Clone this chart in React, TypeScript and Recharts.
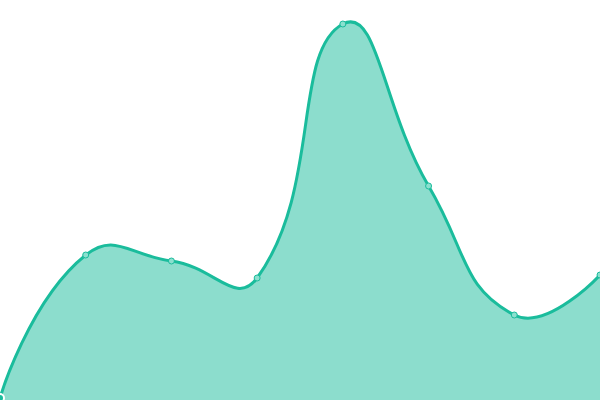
import React from "react";
import { AreaChart, Area, XAxis, YAxis } from "recharts";

const categories = ["A", "B", "C", "D", "E", "F", "G", "H"];
const values = [2, 145, 139, 122, 376, 214, 85, 125];

const data = categories.map((c, i) => ({ name: c, value: values[i] }));

const SMOOTH = 0.5;

function smoothCurve(context: any) {
  let xs: number[] = [];
  let ys: number[] = [];
  let line: number = NaN;
  return {
    areaStart() {
      line = 0;
    },
    areaEnd() {
      line = NaN;
    },
    lineStart() {
      xs = [];
      ys = [];
    },
    point(x: number, y: number) {
      xs.push(+x);
      ys.push(+y);
    },
    lineEnd() {
      const n = xs.length;
      if (n) {
        line ? context.lineTo(xs[0], ys[0]) : context.moveTo(xs[0], ys[0]);
        if (n === 2) {
          context.lineTo(xs[1], ys[1]);
        } else if (n > 2) {
          let cpx0 = xs[0];
          let cpy0 = ys[0];
          for (let i = 1; i < n; i++) {
            const x = xs[i];
            const y = ys[i];
            let cpx1 = x;
            let cpy1 = y;
            let nextCpx0 = x;
            let nextCpy0 = y;
            if (i < n - 1) {
              const px = xs[i - 1];
              const py = ys[i - 1];
              const nx = xs[i + 1];
              const ny = ys[i + 1];
              const vx = nx - px;
              const vy = ny - py;
              const lenPrev = Math.hypot(x - px, y - py);
              const lenNext = Math.hypot(nx - x, ny - y);
              const ratio = lenNext / (lenNext + lenPrev || 1);
              cpx1 = x - vx * SMOOTH * (1 - ratio);
              cpy1 = y - vy * SMOOTH * (1 - ratio);
              nextCpx0 = x + vx * SMOOTH * ratio;
              nextCpy0 = y + vy * SMOOTH * ratio;
            }
            context.bezierCurveTo(cpx0, cpy0, cpx1, cpy1, x, y);
            cpx0 = nextCpx0;
            cpy0 = nextCpy0;
          }
        }
      }
      if (line || (line !== 0 && n === 1)) context.closePath();
      line = 1 - line;
    },
  };
}

export default function App() {
  return (
    <div style={{ position: "absolute", left: 0, top: 0 }}>
      <AreaChart width={600} height={400} data={data} margin={{ top: 0, right: 0, bottom: 0, left: 0 }}>
        <XAxis dataKey="name" hide />
        <YAxis hide domain={[0, 400]} />
        <Area
          type={smoothCurve as any}
          dataKey="value"
          stroke="#1abc9c"
          strokeWidth={3}
          fill="#1abc9c"
          fillOpacity={0.5}
          dot={{ r: 3, fill: "#8be0cf", stroke: "#1abc9c", strokeWidth: 1, fillOpacity: 1 }}
          isAnimationActive={false}
        />
      </AreaChart>
    </div>
  );
}
